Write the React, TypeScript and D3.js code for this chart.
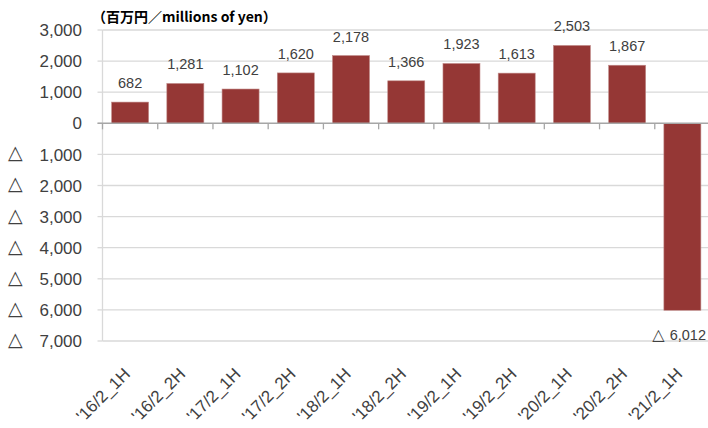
import { useEffect, useRef } from 'react';
import * as d3 from 'd3';

const categories = [
  "'16/2_1H", "'16/2_2H", "'17/2_1H", "'17/2_2H", "'18/2_1H", "'18/2_2H",
  "'19/2_1H", "'19/2_2H", "'20/2_1H", "'20/2_2H", "'21/2_1H",
];
const values = [682, 1281, 1102, 1620, 2178, 1366, 1923, 1613, 2503, 1867, -6012];
const yTicks = [3000, 2000, 1000, 0, -1000, -2000, -3000, -4000, -5000, -6000, -7000];

const width = 708;
const height = 428;
const margin = { top: 30, right: -2, bottom: 87, left: 102.5 };
const font = '"Liberation Sans", Arial, sans-serif';
const triFont = '"DejaVu Sans", sans-serif';
const textColor = '#404040';

export default function App() {
  const svgRef = useRef<SVGSVGElement>(null);

  useEffect(() => {
    if (!svgRef.current) return;
    const svg = d3.select(svgRef.current);
    svg.selectAll('*').remove();

    const x = d3
      .scaleBand<string>()
      .domain(categories)
      .range([margin.left, width - margin.right])
      .paddingInner(0.33)
      .paddingOuter(0.165);
    const y = d3
      .scaleLinear()
      .domain([-7000, 3000])
      .range([height - margin.bottom, margin.top]);

    // gridlines
    svg
      .append('g')
      .selectAll('line')
      .data(yTicks.filter((t) => t !== 0))
      .enter()
      .append('line')
      .attr('x1', margin.left)
      .attr('x2', width - margin.right)
      .attr('y1', (d) => y(d))
      .attr('y2', (d) => y(d))
      .attr('stroke', '#d9d9d9')
      .attr('stroke-width', 1.3);

    // left axis line
    svg
      .append('line')
      .attr('x1', margin.left)
      .attr('x2', margin.left)
      .attr('y1', y(3000))
      .attr('y2', y(-7000))
      .attr('stroke', '#d9d9d9')
      .attr('stroke-width', 1.3);

    // small ticks on left
    svg
      .append('g')
      .selectAll('line')
      .data(yTicks)
      .enter()
      .append('line')
      .attr('x1', margin.left - 5)
      .attr('x2', margin.left)
      .attr('y1', (d) => y(d))
      .attr('y2', (d) => y(d))
      .attr('stroke', '#d9d9d9')
      .attr('stroke-width', 1.3);

    // y labels
    const yl = svg
      .append('g')
      .selectAll('g')
      .data(yTicks)
      .enter()
      .append('g');
    yl.append('text')
      .attr('x', 82)
      .attr('y', (d) => y(d))
      .attr('dy', '0.36em')
      .attr('text-anchor', 'end')
      .attr('font-family', font)
      .attr('font-size', 17)
      .attr('fill', textColor)
      .text((d) => d3.format(',')(Math.abs(d)));
    yl.filter((d) => d < 0)
      .append('text')
      .attr('x', 8)
      .attr('y', (d) => y(d))
      .attr('dy', '0.26em')
      .attr('font-family', triFont)
      .attr('font-size', 19)
      .attr('fill', textColor)
      .text('△');

    // bars
    svg
      .append('g')
      .selectAll('rect')
      .data(values)
      .enter()
      .append('rect')
      .attr('x', (_, i) => x(categories[i])!)
      .attr('width', x.bandwidth())
      .attr('y', (d) => y(Math.max(0, d)))
      .attr('height', (d) => Math.abs(y(d) - y(0)))
      .attr('fill', '#953735')
      .attr('stroke', '#c08a89')
      .attr('stroke-width', 0.6);

    // zero axis line
    svg
      .append('line')
      .attr('x1', margin.left - 5)
      .attr('x2', width - margin.right)
      .attr('y1', y(0))
      .attr('y2', y(0))
      .attr('stroke', '#a6a6a6')
      .attr('stroke-width', 1.5);

    // category ticks on zero line
    const step = x.step();
    svg
      .append('g')
      .selectAll('line')
      .data(d3.range(categories.length + 1))
      .enter()
      .append('line')
      .attr('x1', (i) => margin.left + i * step)
      .attr('x2', (i) => margin.left + i * step)
      .attr('y1', y(0))
      .attr('y2', y(0) + 6)
      .attr('stroke', '#a6a6a6')
      .attr('stroke-width', 1.3);

    // value labels (negatives written with a triangle, right-aligned to stay in view)
    const vl = svg
      .append('g')
      .selectAll('text')
      .data(values)
      .enter()
      .append('text')
      .attr('x', (d, i) => (d < 0 ? width - 2 : x(categories[i])! + x.bandwidth() / 2))
      .attr('y', (d) => (d >= 0 ? y(d) - 14 : y(d) + 30))
      .attr('text-anchor', (d) => (d < 0 ? 'end' : 'middle'))
      .attr('font-family', font)
      .attr('font-size', 14.5)
      .attr('fill', textColor);
    vl.filter((d) => d < 0)
      .append('tspan')
      .attr('font-family', triFont)
      .attr('font-size', 16)
      .text('△ ');
    vl.append('tspan').text((d) => d3.format(',')(Math.abs(d)));

    // x labels, rotated
    svg
      .append('g')
      .selectAll('text')
      .data(categories)
      .enter()
      .append('text')
      .attr(
        'transform',
        (d) => `translate(${x(d)! + x.bandwidth() / 2 + 1},${y(-7000) + 34}) rotate(-45)`,
      )
      .attr('text-anchor', 'end')
      .attr('font-family', font)
      .attr('font-size', 17)
      .attr('fill', textColor)
      .text((d) => d);

    // unit title
    svg
      .append('text')
      .attr('x', 92)
      .attr('y', 22)
      .attr('font-family', '"Noto Sans CJK JP", "Noto Sans", sans-serif')
      .attr('font-size', 14)
      .attr('font-weight', 'bold')
      .attr('fill', '#000')
      .text('（百万円／millions of yen）');
  }, []);

  return (
    <svg
      ref={svgRef}
      width={width}
      height={height}
      style={{ position: 'absolute', left: 0, top: 0, background: '#fff' }}
    />
  );
}
